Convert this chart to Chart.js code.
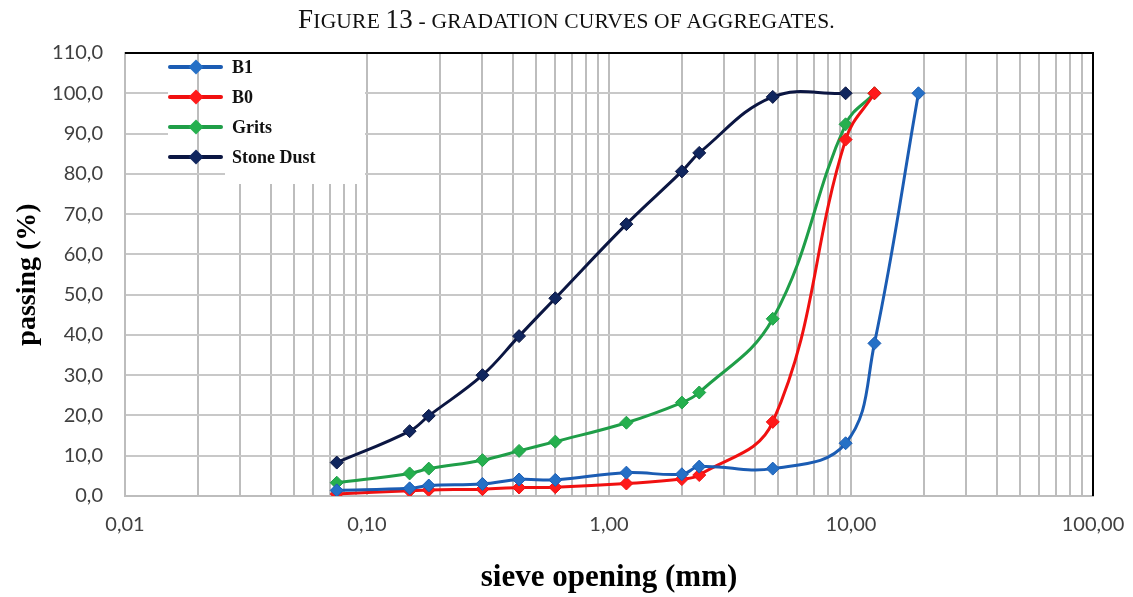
<!DOCTYPE html>
<html>
<head>
<meta charset="utf-8">
<title>Gradation curves</title>
<script src="https://cdn.jsdelivr.net/npm/chart.js@4.4.1/dist/chart.umd.min.js"></script>
<style>
  body { margin: 0; background: #fff; }
  #wrap { position: relative; width: 1133px; height: 597px; }
  #caption {
    position: absolute; top: 4px; left: 0; width: 1133px;
    text-align: center; font-family: "Liberation Serif", "Times New Roman", serif;
    font-size: 21.5px; color: #111; line-height: 30px; letter-spacing: 0.2px;
  }
  #caption .big { font-size: 27px; }
  #chart { position: absolute; left: 0; top: 0; }
</style>
</head>
<body>
<div id="wrap">
  <canvas id="chart" width="1133" height="597"></canvas>
  <div id="caption"><span class="big">F</span>IGURE <span class="big">13</span> - GRADATION CURVES OF AGGREGATES.</div>
</div>
<script>
// sieve sizes (mm) and percent passing for each material
const sieves = [0.075, 0.15, 0.18, 0.3, 0.425, 0.6, 1.18, 2.0, 2.36, 4.75, 9.5, 12.5, 19];
const b1 = [1.4, 1.9, 2.6, 3.0, 4.1, 4.0, 5.8, 5.4, 7.3, 6.8, 13.1, 37.9, 100];
const b0 = [0.5, 1.3, 1.5, 1.7, 2.1, 2.2, 3.1, 4.2, 5.2, 18.4, 88.5, 100, null];
const grits = [3.3, 5.6, 6.8, 8.9, 11.2, 13.5, 18.2, 23.2, 25.7, 44.0, 92.3, 100, null];
const stoneDust = [8.3, 16.1, 19.9, 30.0, 39.7, 49.1, 67.5, 80.6, 85.2, 99.1, 100, null, null];

const seriesNames = ['B1', 'B0', 'Grits', 'Stone Dust'];
const lineColors = ['#1b5cb3', '#f01010', '#1f9e48', '#0b1642'];
const markerColors = ['#2570c6', '#ff1a1a', '#25b04e', '#10265e'];

// x axis: labelled decades + 2..9 minor gridlines
const decades = [0.01, 0.1, 1, 10, 100];
const xTickLabels = ['0,01', '0,10', '1,00', '10,00', '100,00'];
const minorSteps = [2, 3, 4, 5, 6, 7, 8, 9];

function toPoints(values) {
  const pts = [];
  values.forEach((v, i) => { if (v !== null) pts.push({ x: sieves[i], y: v }); });
  return pts;
}

const datasets = [b1, b0, grits, stoneDust].map((vals, i) => ({
  label: seriesNames[i],
  data: toPoints(vals),
  borderColor: lineColors[i],
  backgroundColor: markerColors[i],
  borderWidth: 3,
  tension: 0.4,
  pointStyle: 'rectRot',
  pointRadius: 6.5,
  pointBorderWidth: 1,
  pointBorderColor: lineColors[i],
  pointBackgroundColor: markerColors[i]
}));

// legend in a white box at the top-left of the plot, plus the black top/right frame
const frameAndLegend = {
  id: 'frameAndLegend',
  afterDraw(chart) {
    const ctx = chart.ctx;
    const a = chart.chartArea;
    const xs = chart.scales.x;
    ctx.save();

    ctx.fillStyle = '#fff';
    ctx.fillRect(a.left + 43, a.top + 1, 197, 112);
    ctx.fillRect(a.left + 100, a.top + 1, 140, 130);

    // the 0.02 gridline shows through the legend
    const gx = Math.round(xs.getPixelForValue(0.02));
    ctx.strokeStyle = '#bdbdbd';
    ctx.lineWidth = 2;
    ctx.beginPath();
    ctx.moveTo(gx, a.top + 1);
    ctx.lineTo(gx, a.top + 113);
    ctx.stroke();

    ctx.font = 'bold 18px "Liberation Serif", "Times New Roman", serif';
    ctx.textBaseline = 'middle';
    seriesNames.forEach((name, i) => {
      const y = a.top + 14 + i * 30;
      ctx.strokeStyle = lineColors[i];
      ctx.lineWidth = 4;
      ctx.lineCap = 'round';
      ctx.beginPath();
      ctx.moveTo(a.left + 45, y);
      ctx.lineTo(a.left + 96, y);
      ctx.stroke();
      ctx.fillStyle = markerColors[i];
      ctx.beginPath();
      ctx.moveTo(a.left + 71, y - 7.5);
      ctx.lineTo(a.left + 78.5, y);
      ctx.lineTo(a.left + 71, y + 7.5);
      ctx.lineTo(a.left + 63.5, y);
      ctx.closePath();
      ctx.fill();
      ctx.fillStyle = '#111';
      ctx.fillText(name, a.left + 107, y + 1);
    });

    ctx.strokeStyle = '#000';
    ctx.lineWidth = 2;
    ctx.lineCap = 'butt';
    ctx.beginPath();
    ctx.moveTo(a.left, a.top);
    ctx.lineTo(a.right, a.top);
    ctx.lineTo(a.right, a.bottom);
    ctx.stroke();
    ctx.restore();
  }
};

function isDecade(v) {
  const l = Math.log10(v);
  return Math.abs(l - Math.round(l)) < 1e-9;
}

new Chart(document.getElementById('chart'), {
  type: 'line',
  data: { datasets: datasets },
  plugins: [frameAndLegend],
  options: {
    responsive: false,
    animation: false,
    layout: { padding: { top: 53, right: 40, left: 0, bottom: 0 } },
    plugins: {
      legend: { display: false },
      tooltip: { enabled: false }
    },
    scales: {
      x: {
        type: 'logarithmic',
        min: 0.01,
        max: 100,
        afterFit: s => { s.height = 101; s.paddingLeft = 0; s.paddingRight = 0; },
        afterBuildTicks: s => {
          const ticks = [];
          decades.forEach((d, i) => {
            ticks.push({ value: d });
            if (i < decades.length - 1) minorSteps.forEach(m => ticks.push({ value: m * d }));
          });
          s.ticks = ticks;
        },
        ticks: {
          autoSkip: false,
          maxRotation: 0,
          padding: 17,
          color: '#404040',
          font: { family: 'Lato', size: 20 },
          callback: v => isDecade(v) ? xTickLabels[decades.findIndex(d => Math.abs(d - v) < d * 1e-6)] : ''
        },
        grid: { color: '#bdbdbd', lineWidth: 2, drawTicks: false },
        border: { color: '#bdbdbd', width: 2 },
        title: {
          display: true,
          text: 'sieve opening (mm)',
          color: '#000',
          font: { family: '"Liberation Serif", "Times New Roman", serif', size: 31, weight: 'bold' },
          padding: { top: 0, bottom: 0 }
        }
      },
      y: {
        min: 0,
        max: 110,
        afterFit: s => { s.width = 125; },
        ticks: {
          stepSize: 10,
          padding: 22,
          color: '#404040',
          font: { family: 'Lato', size: 20 },
          callback: v => v.toFixed(1).replace('.', ',')
        },
        grid: { color: '#c8c8c8', lineWidth: 2, drawTicks: false },
        border: { color: '#bdbdbd', width: 2 },
        title: {
          display: true,
          text: 'passing (%)',
          color: '#000',
          font: { family: '"Liberation Serif", "Times New Roman", serif', size: 28, weight: 'bold' },
          padding: { top: 11, bottom: 0 }
        }
      }
    }
  }
});
</script>
</body>
</html>
